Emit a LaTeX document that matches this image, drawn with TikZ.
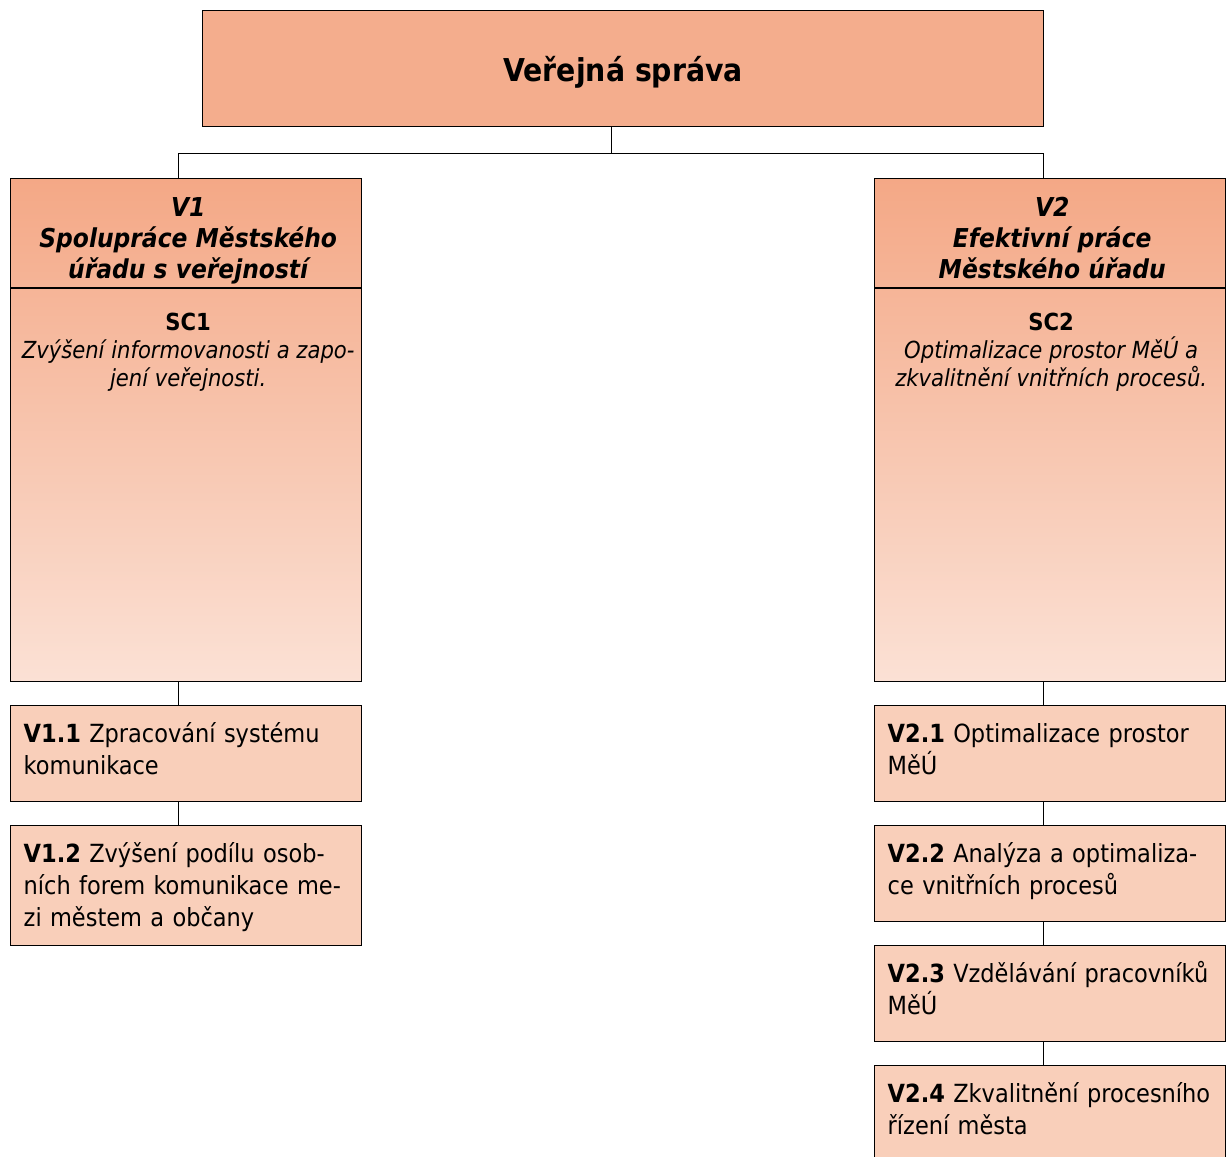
\documentclass[tikz,border=0pt]{standalone}
\usepackage{fontspec}
\setmainfont{DejaVu Sans Condensed}
\usetikzlibrary{positioning}
\definecolor{rootfill}{HTML}{F4AD8D}
\definecolor{goaltop}{HTML}{F4A886}
\definecolor{goalbot}{HTML}{FBE1D5}
\definecolor{measfill}{HTML}{F9CFBA}
\tikzset{
  box/.style={draw, line width=1.4pt, anchor=north west, inner sep=0pt},
  goal/.style={box, minimum width=351pt, minimum height=503pt, top color=goaltop, bottom color=goalbot},
  measure/.style={box, fill=measfill, minimum width=351pt, minimum height=96pt,
    text width=325pt, inner xsep=13pt, align=left, text height=10pt, text depth=32pt,
    font=\fontsize{25}{32}\selectfont},
  link/.style={line width=1pt},
  headtext/.style={align=center, anchor=north, inner sep=0pt, text height=80pt,
    font=\bfseries\itshape\fontsize{26}{31}\selectfont},
  sctext/.style={align=center, anchor=north, inner sep=0pt, font=\fontsize{23.5}{28}\selectfont},
}
\begin{document}
\begin{tikzpicture}[x=1pt,y=-1pt, node distance=22.6pt]
  \useasboundingbox (0,0) rectangle (1227,1157);
  % top level
  \node[box, fill=rootfill, minimum width=841pt, minimum height=116pt, text height=30pt, text depth=4pt,
    font=\bfseries\fontsize{31.5}{34}\selectfont] (root) at (202,10) {Veřejná správa};
  % goals
  \node[goal] (v1) at (10,178) {};
  \node[goal] (v2) at (874,178) {};
  \draw[line width=1.4pt] ([yshift=-110pt]v1.north west) -- ([yshift=-110pt]v1.north east);
  \draw[line width=1.4pt] ([yshift=-110pt]v2.north west) -- ([yshift=-110pt]v2.north east);
  \node[headtext] (v1head) at ([xshift=2pt,yshift=-20pt]v1.north) {V1\\Spolupráce Městského\\úřadu s veřejností};
  \node[headtext] (v2head) at ([xshift=2pt,yshift=-20pt]v2.north) {V2\\Efektivní práce\\Městského úřadu};
  \node[sctext] (sc1) at ([xshift=2pt,yshift=-135pt]v1.north)
    {\textbf{SC1}\\{\itshape Zvýšení informovanosti a zapo-}\\{\itshape jení veřejnosti.}};
  \node[sctext] (sc2) at ([xshift=1pt,yshift=-135pt]v2.north)
    {\textbf{SC2}\\{\itshape Optimalizace prostor MěÚ a}\\{\itshape zkvalitnění vnitřních procesů.}};
  % measures
  \node[measure] (v11) at (10,705) {\textbf{V1.1} Zpracování systému\\komunikace};
  \node[measure, below=of v11, minimum height=120pt, text depth=56pt] (v12)
    {\textbf{V1.2} Zvýšení podílu osob-\\ních forem komunikace me-\\zi městem a občany};
  \node[measure] (v21) at (874,705) {\textbf{V2.1} Optimalizace prostor\\MěÚ};
  \node[measure, below=of v21] (v22) {\textbf{V2.2} Analýza a optimaliza-\\ce vnitřních procesů};
  \node[measure, below=of v22] (v23) {\textbf{V2.3} Vzdělávání pracovníků\\MěÚ};
  \node[measure, below=of v23] (v24) {\textbf{V2.4} Zkvalitnění procesního\\řízení města};
  % connectors
  \draw[link] ([xshift=-12pt]root.south) -- ++(0,26) coordinate (bus);
  \draw[link] ([xshift=-8pt]v1.north) |- (bus) -| ([xshift=-7pt]v2.north);
  \draw[link] ([xshift=-8pt]v1.south) -- ([xshift=-8pt]v11.north);
  \draw[link] ([xshift=-8pt]v11.south) -- ([xshift=-8pt]v12.north);
  \draw[link] ([xshift=-7pt]v2.south) -- ([xshift=-7pt]v21.north);
  \draw[link] ([xshift=-7pt]v21.south) -- ([xshift=-7pt]v22.north);
  \draw[link] ([xshift=-7pt]v22.south) -- ([xshift=-7pt]v23.north);
  \draw[link] ([xshift=-7pt]v23.south) -- ([xshift=-7pt]v24.north);
\end{tikzpicture}
\end{document}
